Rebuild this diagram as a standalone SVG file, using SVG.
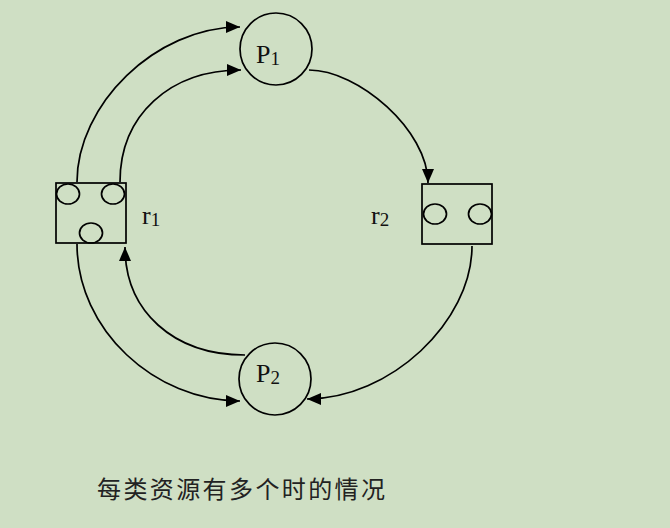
<svg xmlns="http://www.w3.org/2000/svg" width="670" height="528" viewBox="0 0 670 528">
<defs>
<marker id="ah" markerUnits="userSpaceOnUse" markerWidth="16" markerHeight="14" refX="14" refY="6" orient="auto">
<path d="M0,0 L14,6 L0,12 z" fill="#000"/>
</marker>
<style>
.node{fill:none;stroke:#000;stroke-width:1.7}
.res{fill:none;stroke:#000;stroke-width:1.7}
.edge{fill:none;stroke:#000;stroke-width:1.7;marker-end:url(#ah)}
.lbl{font-family:"Liberation Serif","Times New Roman",serif;font-size:26px;fill:#111}
.sub{font-size:19px}
.cap{font-family:"Noto Sans CJK SC","Noto Sans",sans-serif;font-size:24px;fill:#222}
</style>
</defs>
<rect width="670" height="528" fill="#cfdfc4"/>
<g id="connectors">
<path class="edge" d="M77,182 C77,105 155,27 240,27"/>
<path class="edge" d="M120,182 C120,115 170,70 241,70"/>
<path class="edge" d="M309,70 C358,70 428,130 428,183"/>
<path class="edge" d="M472,246 C472,322 390,399 307,399"/>
<path class="edge" d="M77,244 C77,330 155,401 240,401"/>
<path class="edge" d="M245,355 C173,355 125,311 125,247"/>
</g>
<g id="P1">
<circle class="node" cx="276" cy="49" r="36"/>
<text class="lbl" x="256" y="63">P<tspan class="sub" dy="2">1</tspan></text>
</g>
<g id="P2">
<circle class="node" cx="275" cy="379" r="36"/>
<text class="lbl" x="256" y="382">P<tspan class="sub" dy="2">2</tspan></text>
</g>
<g id="r1">
<rect class="res" x="56" y="183" width="70" height="60"/>
<ellipse class="res" cx="68" cy="194" rx="11.5" ry="10"/>
<ellipse class="res" cx="113" cy="194" rx="11.5" ry="10"/>
<ellipse class="res" cx="91" cy="233" rx="11.5" ry="10"/>
<text class="lbl" x="142" y="224">r<tspan class="sub" dy="2">1</tspan></text>
</g>
<g id="r2">
<rect class="res" x="422" y="184" width="70" height="60"/>
<ellipse class="res" cx="435" cy="214" rx="11.5" ry="10"/>
<ellipse class="res" cx="480" cy="214" rx="11.5" ry="10"/>
<text class="lbl" x="371" y="224">r<tspan class="sub" dy="2">2</tspan></text>
</g>
<g id="caption">
<text class="cap" x="97" y="498" textLength="288" lengthAdjust="spacing">每类资源有多个时的情况</text>
</g>
</svg>
